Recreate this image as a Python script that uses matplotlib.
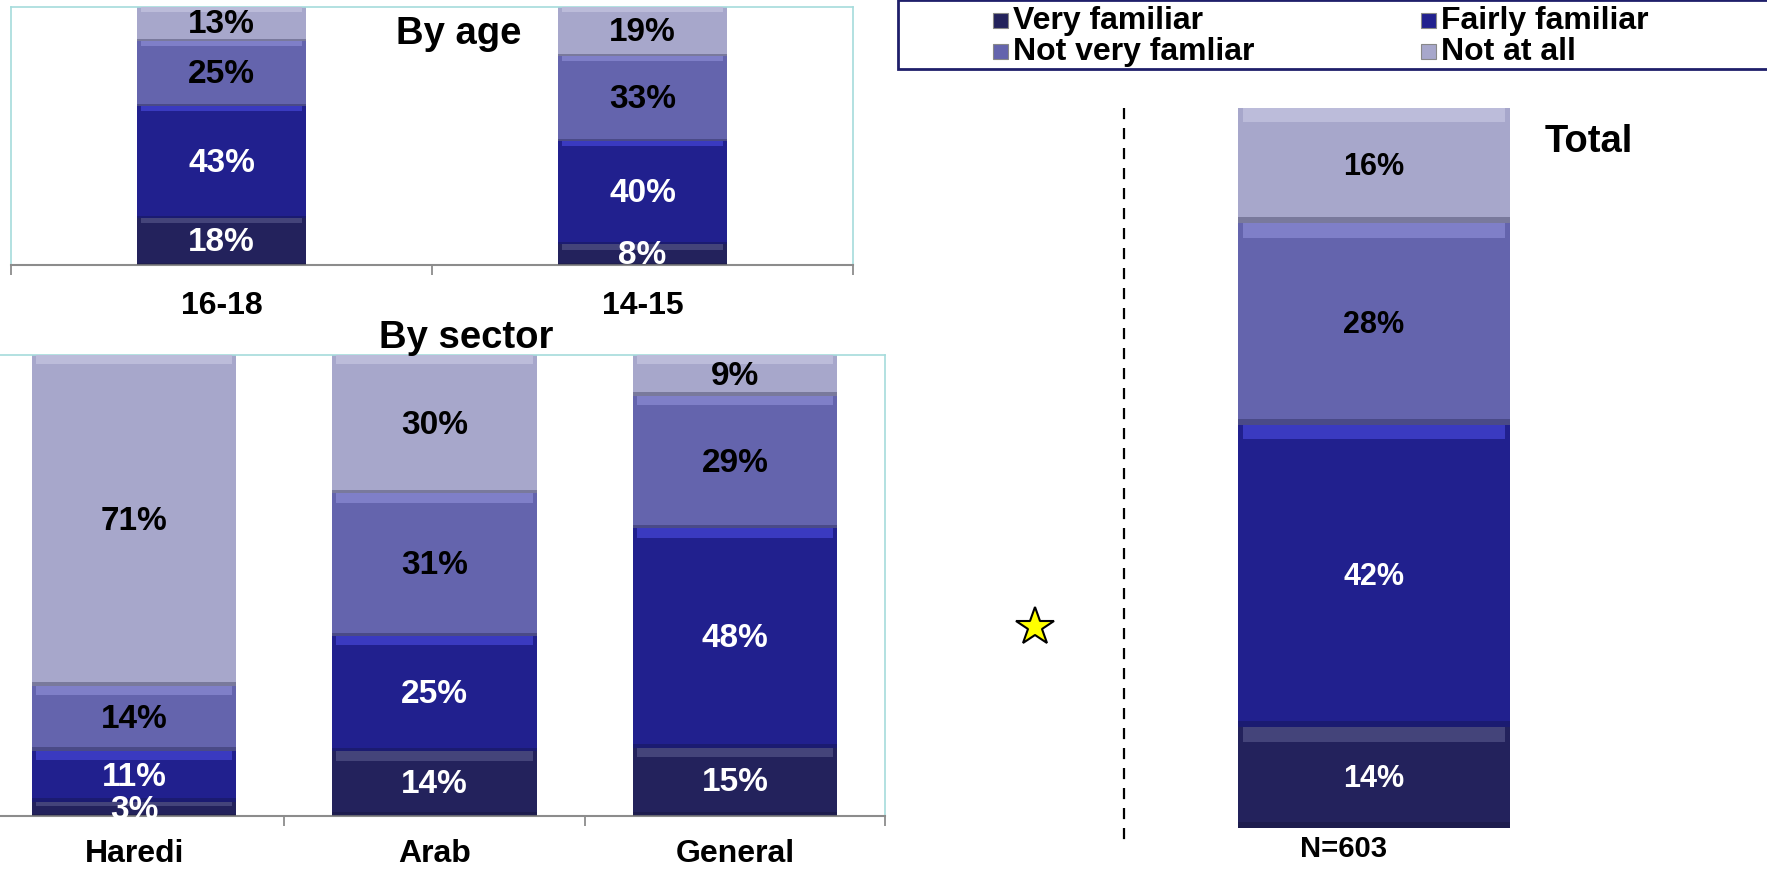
import numpy as np
import matplotlib.pyplot as plt
from matplotlib.patches import Rectangle
from matplotlib.lines import Line2D

plt.rcParams['font.family'] = ['Liberation Sans', 'DejaVu Sans']
plt.rcParams['font.weight'] = 'bold'

# data
levels = ["Very familiar", "Fairly familiar", "Not very famliar", "Not at all"]
colors = ["#23225c", "#21208e", "#6464ad", "#a7a7cb"]
highlights = ["#44447a", "#3a3ac0", "#7f7fc8", "#bcbcda"]
text_colors = ["white", "white", "black", "black"]

age_cats = ["16-18", "14-15"]
age_very = [18, 8]
age_fairly = [43, 40]
age_notvery = [25, 33]
age_notatall = [13, 19]

sector_cats = ["Haredi", "Arab", "General"]
sector_very = [3, 14, 15]
sector_fairly = [11, 25, 48]
sector_notvery = [14, 31, 29]
sector_notatall = [71, 30, 9]

total_cats = ["N=603"]
total_very = [14]
total_fairly = [42]
total_notvery = [28]
total_notatall = [16]

W, H = 1767, 870
fig = plt.figure(figsize=(W / 100, H / 100), dpi=100)


def stacked(ax, cats, series, width, fs):
    vals = np.array(series, dtype=float)          # shape (4, n)
    shares = vals / vals.sum(axis=0)               # 100% stacked
    x = np.arange(len(cats))
    bottom = np.zeros(len(cats))
    for i in range(len(series)):
        ax.bar(x, shares[i], width, bottom=bottom, color=colors[i], zorder=2)
        # soft bevel: lighter band at the top, darker line at the bottom
        hl = np.minimum(0.02, shares[i] * 0.3)
        ax.bar(x, hl, width * 0.96, bottom=bottom + shares[i] - hl,
               color=highlights[i], zorder=3)
        ax.bar(x, hl * 0.4, width, bottom=bottom, color="#101030", alpha=0.3, zorder=3)
        for xi, b, s, v in zip(x, bottom, shares[i], vals[i]):
            ax.text(xi, b + s / 2, f"{int(v)}%", ha="center", va="center",
                    fontsize=fs, fontweight="bold", color=text_colors[i], zorder=4)
        bottom = bottom + shares[i]
    ax.set_xlim(-0.5, len(cats) - 0.5)
    ax.set_ylim(0, 1)
    ax.set_yticks([])
    return x


def style_panel(ax, cats, x, pad):
    ax.set_xticks(x)
    ax.set_xticklabels(cats, fontsize=23, fontweight="bold")
    ax.tick_params(axis="x", which="major", length=0, pad=pad)
    ax.set_xticks(np.arange(len(cats) + 1) - 0.5, minor=True)
    ax.tick_params(axis="x", which="minor", length=7, width=1.3, color="#8c8c8c")
    ax.spines["bottom"].set_color("#8c8c8c")
    ax.spines["bottom"].set_linewidth(1.5)
    for s in ["left", "top", "right"]:
        ax.spines[s].set_color("#a5dcdc")
        ax.spines[s].set_linewidth(1.2)


# by age
ax1 = fig.add_axes([11 / W, 1 - 266 / H, 842 / W, 258 / H])
x1 = stacked(ax1, age_cats, [age_very, age_fairly, age_notvery, age_notatall], 0.4, 24)
style_panel(ax1, age_cats, x1, 18)

# by sector
ax2 = fig.add_axes([-16 / W, 1 - 817 / H, 901 / W, 461 / H])
x2 = stacked(ax2, sector_cats, [sector_very, sector_fairly, sector_notvery, sector_notatall], 0.68, 24)
style_panel(ax2, sector_cats, x2, 16)

# total
ax3 = fig.add_axes([1102 / W, 1 - 829 / H, 544 / W, 720 / H])
x3 = stacked(ax3, total_cats, [total_very, total_fairly, total_notvery, total_notatall], 0.5, 22)
ax3.set_xticks([])
for s in ax3.spines.values():
    s.set_visible(False)
fig.text(1344 / W, 1 - 849 / H, total_cats[0], ha="center", va="center",
         fontsize=21, fontweight="bold")

# titles
fig.text(459 / W, 1 - 34 / H, "By age", ha="center", va="center", fontsize=27.5, fontweight="bold")
fig.text(466 / W, 1 - 338 / H, "By sector", ha="center", va="center", fontsize=27.5, fontweight="bold")
fig.text(1589 / W, 1 - 142 / H, "Total", ha="center", va="center", fontsize=27.5, fontweight="bold")

# dashed separator and star
fig.add_artist(Line2D([1124 / W, 1124 / W], [1 - 109 / H, 1 - 845 / H], color="black",
                      lw=1.6, linestyle=(0, (5, 4))))
fig.add_artist(Line2D([1035 / W], [1 - 628 / H], marker="*", markersize=29,
                      markerfacecolor="#ffff00", markeredgecolor="black", markeredgewidth=1.5))

# legend
fig.add_artist(Rectangle((898 / W, 1 - 70 / H), 900 / W, 69 / H, transform=fig.transFigure,
                         facecolor="white", edgecolor="#1f1f6a", lw=2, clip_on=False))
leg_x = [993, 1421]
leg_y = [21, 52]
for i, lab in enumerate(levels):
    lx = leg_x[i % 2]
    ly = leg_y[i // 2]
    fig.add_artist(Rectangle((lx / W, 1 - (ly + 8) / H), 15 / W, 15 / H,
                             transform=fig.transFigure, facecolor=colors[i],
                             edgecolor="#888888", lw=0.8))
    fig.text((lx + 20) / W, 1 - ly / H, lab, ha="left", va="center",
             fontsize=23, fontweight="bold")

fig.savefig("out.png", dpi=100)
